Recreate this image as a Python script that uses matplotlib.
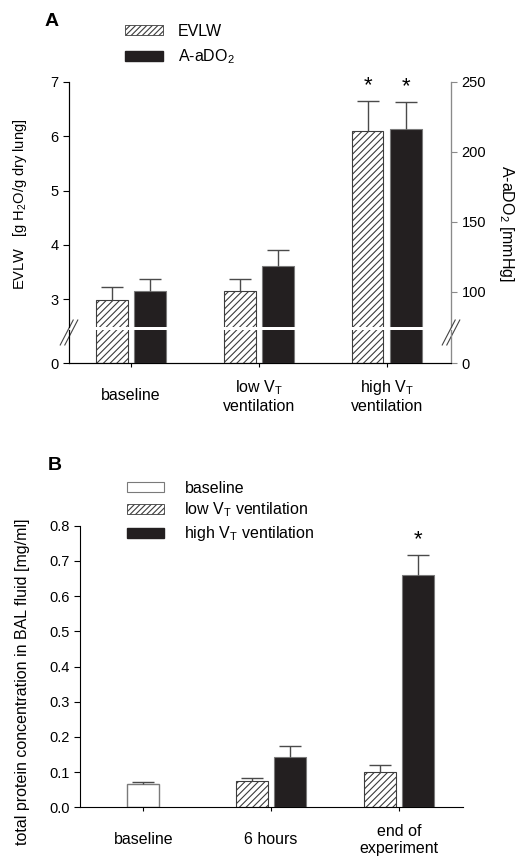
import numpy as np
import matplotlib
matplotlib.use("Agg")
import matplotlib.pyplot as plt
from matplotlib.patches import Patch

plt.rcParams['font.family'] = ['Liberation Sans', 'DejaVu Sans']
plt.rcParams['font.size'] = 10
plt.rcParams['ytick.labelsize'] = 10.5
plt.rcParams['mathtext.fontset'] = 'custom'
plt.rcParams['mathtext.rm'] = 'Liberation Sans'
plt.rcParams['mathtext.it'] = 'Liberation Sans:italic'
plt.rcParams['hatch.linewidth'] = 0.8

# Panel A data
groups_a = ['baseline', 'low V$_\\mathrm{T}$\nventilation', 'high V$_\\mathrm{T}$\nventilation']
evlw = [2.98, 3.15, 6.10]
evlw_err = [0.25, 0.22, 0.54]
aado2 = [100.5, 118.0, 216.4]
aado2_err = [8.4, 12.0, 19.0]
stars_a = [False, False, True]

# Panel B data
groups_b = ['baseline', '6 hours', 'end of\nexperiment']
base_b = [0.065]
base_b_err = [0.006]
low_b = [0.075, 0.100]
low_b_err = [0.009, 0.019]
high_b = [0.143, 0.660]
high_b_err = [0.032, 0.056]

# styling
black = '#231f20'
edge_gray = '#7a7a7a'
hatch_edge = '#3c3c3c'
err_col = '#4a4a4a'
w = 0.25
off = 0.15
W, H = 517, 857
cat_fs = 11.5
leg_fs = 11.5


def px_axes(left, top, right, bottom):
    return fig.add_axes([left / W, 1 - bottom / H, (right - left) / W, (bottom - top) / H])


def up_err(ax, x, y, e):
    _, caps, _ = ax.errorbar(x, y, yerr=[np.zeros(len(e)), e], fmt='none',
                             ecolor=err_col, elinewidth=1.0, capsize=8, capthick=1.0)
    caps[0].set_visible(False)


fig = plt.figure(figsize=(W / 100, H / 100), dpi=100)

# ---------------- Panel A (broken axis) ----------------
xa = np.arange(len(groups_a))
ax_up = px_axes(69, 81.7, 451, 326.5)
ax_lo = px_axes(69, 330, 451, 363.3)
ax_up_r = ax_up.twinx()
ax_lo_r = ax_lo.twinx()

for a in (ax_up, ax_lo):
    a.bar(xa - off, evlw, w, color='white', edgecolor=hatch_edge, hatch='/////', linewidth=0.8)
for a in (ax_up_r, ax_lo_r):
    a.bar(xa + off, aado2, w, color=black, edgecolor=edge_gray, linewidth=0.8)
up_err(ax_up, xa - off, evlw, evlw_err)
up_err(ax_up_r, xa + off, aado2, aado2_err)

for i in range(len(xa)):
    if stars_a[i]:
        ax_up.annotate('*', (xa[i] - off, evlw[i] + evlw_err[i]), xytext=(0, 11),
                       textcoords='offset points', ha='center', va='center', fontsize=16)
        ax_up_r.annotate('*', (xa[i] + off, aado2[i] + aado2_err[i]), xytext=(0, 11),
                         textcoords='offset points', ha='center', va='center', fontsize=16)

ax_up.set_ylim(2.5, 7)
ax_up_r.set_ylim(75, 250)
ax_lo.set_ylim(0, 1)
ax_lo_r.set_ylim(0, 1)
for a in (ax_up, ax_lo, ax_up_r, ax_lo_r):
    a.set_xlim(-0.485, 2.503)
ax_up.set_yticks([3, 4, 5, 6, 7])
ax_up_r.set_yticks([100, 150, 200, 250])
ax_lo.set_yticks([0])
ax_lo_r.set_yticks([0])

for a in (ax_up, ax_up_r):
    a.spines['top'].set_visible(False)
    a.spines['bottom'].set_visible(False)
    a.tick_params(axis='x', bottom=False, labelbottom=False)
for a in (ax_lo, ax_lo_r):
    a.spines['top'].set_visible(False)
for a in (ax_up_r, ax_lo_r):
    a.spines['right'].set_color('#8a8a8a')
    a.tick_params(axis='y', colors='#8a8a8a', labelcolor='black', length=4)
for a in (ax_up, ax_lo):
    a.spines['left'].set_color('#222222')
    a.tick_params(axis='y', length=4)
ax_lo.set_xticks(xa)
ax_lo.set_xticklabels(groups_a, fontsize=cat_fs)
ax_lo.tick_params(axis='x', length=3, pad=20.5)
for t in ax_lo.get_xticklabels():
    t.set_va('center')
ax_lo_r.tick_params(axis='x', bottom=False, labelbottom=False)

ax_up.set_ylabel('EVLW   [g H$_2$O/g dry lung]', fontsize=10.5, va='center')
ax_up.yaxis.set_label_coords(-0.128, 0.5)
ax_up_r.set_ylabel('A-aDO$_2$ [mmHg]', rotation=270, va='center', fontsize=11.5)
ax_up_r.yaxis.set_label_coords(1.144, 0.42)

# break marks
for a, xs in ((ax_lo, 0.0), (ax_lo_r, 1.0)):
    for dx in (-0.006, 0.006):
        a.plot([xs + dx - 0.017, xs + dx + 0.017], [0.55, 1.3], transform=a.transAxes,
               color='#444444', lw=0.8, clip_on=False)

fig.legend(handles=[Patch(facecolor='white', edgecolor=hatch_edge, hatch='//////', linewidth=0.6),
                    Patch(facecolor=black, edgecolor=black)],
           labels=['EVLW', 'A-aDO$_2$'], loc='upper left', fontsize=leg_fs,
           bbox_to_anchor=(125 / W, 1 - 24 / H), frameon=False, borderpad=0,
           borderaxespad=0, handlelength=2.4, handleheight=0.6, handletextpad=0.9,
           labelspacing=0.55)
fig.text(45 / W, 1 - 21 / H, 'A', fontsize=14, fontweight='bold', va='center')

# ---------------- Panel B ----------------
xb = np.arange(len(groups_b))
axb = px_axes(80, 525.7, 463, 807.3)
axb.bar(xb[:1], base_b, w, color='white', edgecolor=edge_gray, linewidth=1.0)
axb.bar(xb[1:] - off, low_b, w, color='white', edgecolor=hatch_edge, hatch='/////', linewidth=0.8)
axb.bar(xb[1:] + off, high_b, w, color=black, edgecolor=edge_gray, linewidth=0.8)
up_err(axb, xb[:1], base_b, base_b_err)
up_err(axb, xb[1:] - off, low_b, low_b_err)
up_err(axb, xb[1:] + off, high_b, high_b_err)
axb.annotate('*', (xb[2] + off, high_b[1] + high_b_err[1]), xytext=(0, 11),
             textcoords='offset points', ha='center', va='center', fontsize=16)

axb.set_xlim(-0.496, 2.503)
axb.set_ylim(0, 0.8)
axb.set_yticks(np.arange(0, 0.81, 0.1))
axb.yaxis.set_major_formatter(matplotlib.ticker.FormatStrFormatter('%.1f'))
axb.spines['top'].set_visible(False)
axb.spines['right'].set_visible(False)
axb.tick_params(axis='y', length=4)
axb.set_xticks(xb)
axb.set_xticklabels(groups_b, fontsize=cat_fs)
axb.tick_params(axis='x', length=3, pad=20.5)
for t in axb.get_xticklabels():
    t.set_va('center')
axb.set_ylabel('total protein concentration in BAL fluid [mg/ml]', va='center', fontsize=11.5)
axb.yaxis.set_label_coords(-0.151, 0.445)

fig.legend(handles=[Patch(facecolor='white', edgecolor=edge_gray, linewidth=0.8),
                    Patch(facecolor='white', edgecolor=hatch_edge, hatch='//////', linewidth=0.6),
                    Patch(facecolor=black, edgecolor=black)],
           labels=['baseline', 'low V$_\\mathrm{T}$ ventilation', 'high V$_\\mathrm{T}$ ventilation'],
           loc='upper left', fontsize=leg_fs, bbox_to_anchor=(127 / W, 1 - 481 / H),
           frameon=False, borderpad=0, borderaxespad=0, handlelength=2.3,
           handleheight=0.6, handletextpad=1.3, labelspacing=0.3)
fig.text(48 / W, 1 - 465 / H, 'B', fontsize=14, fontweight='bold', va='center')

fig.savefig('out.png', dpi=100)
